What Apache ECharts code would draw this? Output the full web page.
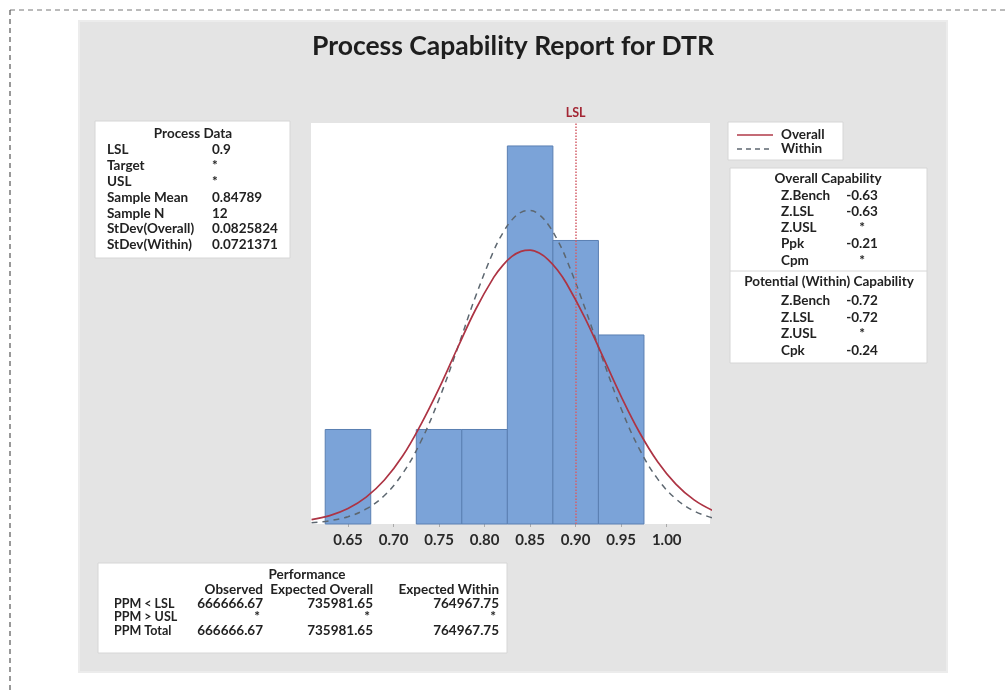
<!DOCTYPE html>
<html><head><meta charset="utf-8">
<script src="https://cdn.jsdelivr.net/npm/echarts@6/dist/echarts.min.js"></script>
<style>html,body{margin:0;padding:0;background:#fff;}#c{width:1008px;height:694px;}</style>
</head><body><div id="c"></div>
<script>
// ---- data ----
const binCenters = [0.65, 0.70, 0.75, 0.80, 0.85, 0.90, 0.95];
const binCounts  = [1, 0, 1, 1, 4, 3, 2];
const binWidth = 0.05;
const tickValues = [0.65, 0.70, 0.75, 0.80, 0.85, 0.90, 0.95, 1.00];
const lsl = 0.9;
const curveX = [0.61,0.63,0.65,0.67,0.69,0.71,0.73,0.75,0.77,0.79,0.81,0.82,0.83,0.84,0.85,0.86,0.87,0.88,0.89,0.91,0.93,0.95,0.97,0.99,1.01,1.03,1.05];
const overallFit = [0.046,0.089,0.164,0.285,0.466,0.719,1.052,1.435,1.857,2.267,2.609,2.737,2.831,2.885,2.897,2.867,2.796,2.687,2.545,2.184,1.768,1.349,0.971,0.659,0.422,0.255,0.145];
const withinFit  = [0.014,0.035,0.077,0.159,0.302,0.534,0.873,1.321,1.852,2.405,2.891,3.079,3.218,3.298,3.317,3.272,3.166,3.005,2.798,2.290,1.736,1.219,0.792,0.477,0.266,0.137,0.066];

const processLabels = ['LSL','Target','USL','Sample Mean','Sample N','StDev(Overall)','StDev(Within)'];
const processValues = ['0.9','*','*','0.84789','12','0.0825824','0.0721371'];
const overallCapLabels = ['Z.Bench','Z.LSL','Z.USL','Ppk','Cpm'];
const overallCapValues = ['-0.63','-0.63','*','-0.21','*'];
const withinCapLabels = ['Z.Bench','Z.LSL','Z.USL','Cpk'];
const withinCapValues = ['-0.72','-0.72','*','-0.24'];
const perfHeaders = ['Observed','Expected Overall','Expected Within'];
const perfRows = ['PPM < LSL','PPM > USL','PPM Total'];
const perfObserved = ['666666.67','*','666666.67'];
const perfExpOverall = ['735981.65','*','735981.65'];
const perfExpWithin = ['764967.75','*','764967.75'];

// ---- helpers ----
const FONT = 'Lato, "Noto Sans", sans-serif';
function txt(s, x, y, align, size, weight, color){
  return {type:'text', z:10, style:{text:s, x:x, y:y, textAlign:align||'left', textVerticalAlign:'middle',
    font:(weight||'bold')+' '+(size||13.5)+'px '+FONT, fill:color||'#222'}};
}
function box(x,y,w,h){
  return {type:'rect', z:5, shape:{x:x,y:y,width:w,height:h}, style:{fill:'#fff', stroke:'#d6d6d6', lineWidth:1}};
}
const g = [];
// outer dashed frame
g.push({type:'line', shape:{x1:10,y1:10,x2:1008,y2:10}, style:{stroke:'#777', lineWidth:1, lineDash:[5,4]}});
g.push({type:'line', shape:{x1:10,y1:10,x2:10,y2:694}, style:{stroke:'#555', lineWidth:1.2, lineDash:[5,4]}});
// gray panel
g.push({type:'rect', z:-10, shape:{x:79,y:21,width:868,height:651}, style:{fill:'#e4e4e4', stroke:'#ececec', lineWidth:2}});
// title
g.push(txt('Process Capability Report for DTR', 513, 46, 'center', 26.5, 'bold', '#1e1e1e'));
// process data box
g.push(box(95,121,195,137));
g.push(txt('Process Data', 193, 134, 'center'));
processLabels.forEach((l,i)=>{ g.push(txt(l,107,150+i*15.8)); g.push(txt(processValues[i],212,150+i*15.8)); });
// legend box
g.push(box(728,122,115,38));
g.push({type:'line', z:10, shape:{x1:737,y1:135,x2:773,y2:135}, style:{stroke:'#b03a48', lineWidth:1.5}});
g.push({type:'line', z:10, shape:{x1:737,y1:149,x2:773,y2:149}, style:{stroke:'#5d6770', lineWidth:1.3, lineDash:[5,4]}});
g.push(txt('Overall',781,135)); g.push(txt('Within',781,149));
// capability box
g.push(box(730,168,197,195));
g.push({type:'line', z:10, shape:{x1:730,y1:271,x2:927,y2:271}, style:{stroke:'#d6d6d6', lineWidth:1}});
g.push(txt('Overall Capability', 828, 179, 'center'));
overallCapLabels.forEach((l,i)=>{ g.push(txt(l,781,195.5+i*16.2)); g.push(txt(overallCapValues[i],862,195.5+i*16.2,'center')); });
g.push(txt('Potential (Within) Capability', 829, 282, 'center'));
withinCapLabels.forEach((l,i)=>{ g.push(txt(l,781,301+i*16.5)); g.push(txt(withinCapValues[i],862,301+i*16.5,'center')); });
// performance box
g.push(box(98,563,409,90));
g.push(txt('Performance', 307, 575, 'center'));
const perfX = [263, 373, 499];
perfHeaders.forEach((h,i)=>g.push(txt(h, perfX[i], 590, 'right')));
perfRows.forEach((r,i)=>{
  const y = [604,617,631][i];
  g.push(txt(r,114,y,'left',12.5));
  [perfObserved, perfExpOverall, perfExpWithin].forEach((col,j)=>{
    const v = col[i];
    g.push(txt(v, v==='*' ? perfX[j]-6 : perfX[j], y, v==='*'?'center':'right'));
  });
});

const chart = echarts.init(document.getElementById('c'), null, {renderer:'canvas'});
chart.setOption({
  animation:false,
  backgroundColor:'#fff',
  grid:{left:311, right:298, top:123, bottom:170, show:true, backgroundColor:'#fff', borderWidth:0, z:0},
  xAxis:{type:'value', min:0.6094, max:1.0475,
    axisLine:{show:false}, splitLine:{show:false},
    axisTick:{show:true, length:3, lineStyle:{color:'#aaa'}, customValues:tickValues},
    axisLabel:{customValues:tickValues, formatter:v=>v.toFixed(2), margin:9, fontSize:15, fontWeight:'bold', color:'#2a2a2a', fontFamily:FONT}},
  yAxis:{type:'value', min:0, max:4.243, show:false, splitLine:{show:false}},
  graphic:g,
  series:[
    {type:'custom', z:2, data:binCenters.map((c,i)=>[c,binCounts[i]]).filter(d=>d[1]>0), encode:{x:0,y:1},
      renderItem:function(params, api){
        const c = api.value(0), n = api.value(1);
        const p0 = api.coord([c - binWidth/2, n]);
        const p1 = api.coord([c + binWidth/2, 0]);
        return {type:'rect', shape:{x:p0[0], y:p0[1], width:p1[0]-p0[0], height:p1[1]-p0[1]},
          style:{fill:'#7ba3d8', stroke:'#5a7fb2', lineWidth:1}};
      },
      markLine:{silent:true, symbol:'none', data:[{xAxis:lsl}],
        lineStyle:{color:'#d4606a', type:'dotted', width:1.5},
        label:{show:true, position:'end', formatter:'LSL', color:'#a32634', fontSize:12.5, fontWeight:'bold', fontFamily:FONT, distance:4}}
    },
    {type:'line', z:4, name:'Within', data:curveX.map((x,i)=>[x,withinFit[i]]), smooth:0.4, showSymbol:false,
      lineStyle:{color:'#5d6770', width:1.5, type:[6,5]}},
    {type:'line', z:5, name:'Overall', data:curveX.map((x,i)=>[x,overallFit[i]]), smooth:0.4, showSymbol:false,
      lineStyle:{color:'#ad3444', width:1.7}}
  ]
});
</script></body></html>
